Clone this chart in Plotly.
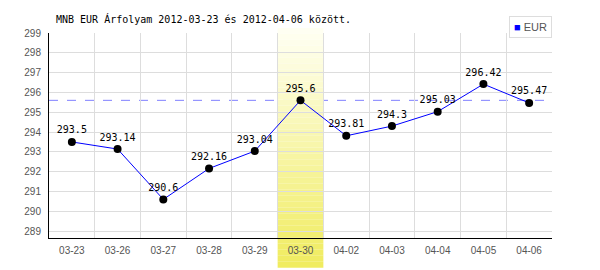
import plotly.graph_objects as go

dates = ["03-23", "03-26", "03-27", "03-28", "03-29", "03-30",
         "04-02", "04-03", "04-04", "04-05", "04-06"]
eur = [293.5, 293.14, 290.6, 292.16, 293.04, 295.6,
       293.81, 294.3, 295.03, 296.42, 295.47]
highlight_index = 5
y_ticks = list(range(289, 300))
title_text = "MNB EUR Árfolyam 2012-03-23 és 2012-04-06 között."
series_name = "EUR"

xs = list(range(len(dates)))

fig = go.Figure()
fig.add_trace(go.Scatter(
    x=xs, y=eur, mode="lines+markers+text", name=series_name,
    text=[str(v) for v in eur], textposition="top center",
    textfont=dict(family="DejaVu Sans Mono", size=10, color="#000"),
    line=dict(color="#0000ff", width=1),
    marker=dict(color="#000", size=8),
    showlegend=False, cliponaxis=False,
))

shapes = []
shapes.append(dict(type="line", xref="paper", x0=0, x1=1, yref="y",
                   y0=eur[highlight_index], y1=eur[highlight_index],
                   line=dict(color="#8080ff", width=1, dash="dash"),
                   layer="below"))
n = 40
top_p, bot_p = 1.025, -0.145
c0 = (255, 255, 242)
c1 = (240, 236, 96)
for i in range(n):
    t = i / (n - 1)
    col = tuple(round(c0[k] + (c1[k] - c0[k]) * t) for k in range(3))
    ya = top_p + (bot_p - top_p) * i / n
    yb = top_p + (bot_p - top_p) * (i + 1) / n
    shapes.append(dict(type="rect", xref="x", yref="paper",
                       x0=highlight_index - 0.5, x1=highlight_index + 0.5,
                       y0=yb, y1=ya, line=dict(width=0),
                       fillcolor="rgb(%d,%d,%d)" % col, layer="between"))

fig.update_layout(
    width=600, height=270,
    margin=dict(l=49, r=48, t=33, b=32),
    paper_bgcolor="#fff", plot_bgcolor="#fff",
    shapes=shapes,
    annotations=[
        dict(text=title_text, xref="paper", yref="paper",
             x=(54 - 49) / 503, y=(238 - 19) / 205,
             xanchor="left", yanchor="middle", showarrow=False,
             font=dict(family="DejaVu Sans Mono", size=10, color="#000")),
        dict(text="<span style='color:#0000ff'>■</span> " + series_name,
             xref="paper", yref="paper", x=1, y=(238 - 16) / 205,
             xanchor="right", yanchor="top", showarrow=False,
             bordercolor="#dddddd", borderwidth=1, borderpad=4, bgcolor="#fff",
             font=dict(family="Liberation Sans", size=11, color="#555")),
    ],
    xaxis=dict(range=[-0.5, len(dates) - 0.5], tickvals=xs, ticktext=dates,
               showgrid=False, zeroline=False, showline=True, linecolor="#000",
               linewidth=1, ticks="", ticklabelstandoff=3,
               tickfont=dict(family="Liberation Sans", size=10, color="#555"),
               minor=dict(tickvals=[i + 0.5 for i in xs], showgrid=True,
                          gridcolor="#dddddd", gridwidth=1, ticks="")),
    yaxis=dict(range=[288.65, 299], tickvals=y_ticks, showgrid=True,
               gridcolor="#dddddd", gridwidth=1, zeroline=False,
               showline=True, linecolor="#000", linewidth=1, ticks="",
               ticklabelstandoff=5,
               tickfont=dict(family="Liberation Sans", size=10, color="#555")),
)

fig.write_html("out.html")
